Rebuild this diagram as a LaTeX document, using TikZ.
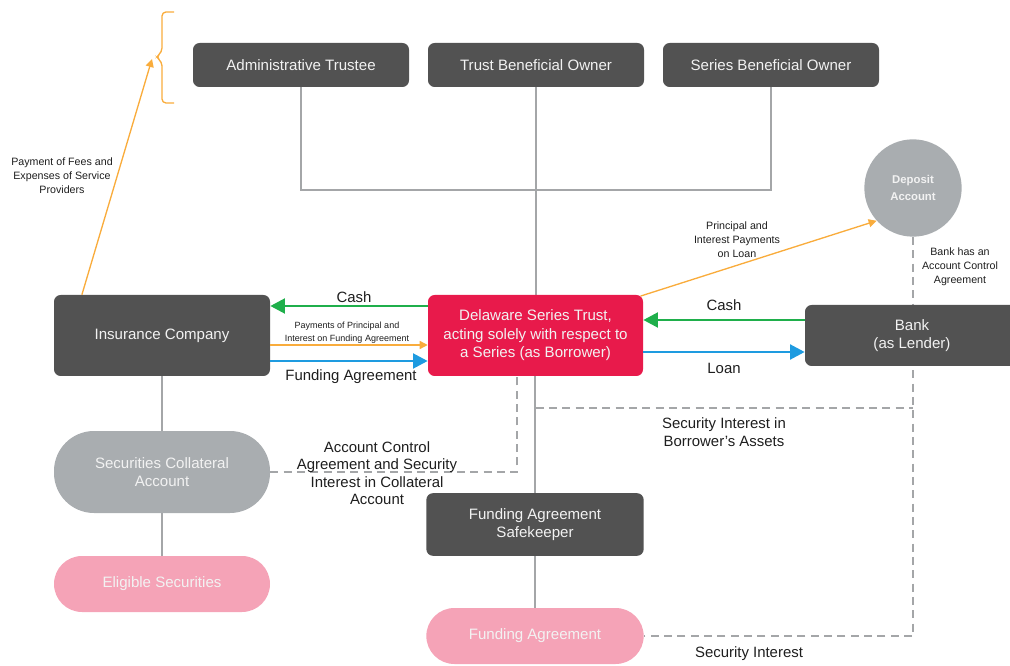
\documentclass[tikz,border=0pt]{standalone}
\usepackage{fontspec}
\setmainfont{Liberation Sans}
\usetikzlibrary{arrows.meta,calc,backgrounds}

\definecolor{darkbox}{HTML}{525252}
\definecolor{trustred}{HTML}{E81A4B}
\definecolor{acctgray}{HTML}{A9ADB0}
\definecolor{softpink}{HTML}{F5A3B7}
\definecolor{cashgreen}{HTML}{1FAF4B}
\definecolor{loanblue}{HTML}{1E9BE0}
\definecolor{payorange}{HTML}{F9AC3C}
\definecolor{linkgray}{HTML}{A4A6A8}
\definecolor{labeltext}{HTML}{1E1E1E}
\definecolor{boxtext}{HTML}{F2F2F2}

\begin{document}
\begin{tikzpicture}[x=0.75pt,y=-0.75pt,
  entity/.style={fill=darkbox, rounded corners=5pt, text=boxtext, align=center,
    inner sep=0pt, font=\fontsize{11.3}{13.8}\selectfont},
  redbox/.style={entity, fill=trustred},
  pill/.style={fill=acctgray, rounded corners=30pt, text=boxtext, align=center,
    inner sep=0pt, font=\fontsize{11.3}{13}\selectfont},
  pinkpill/.style={pill, fill=softpink, rounded corners=21pt},
  lbl/.style={text=labeltext, align=center, inner sep=0pt,
    font=\fontsize{11.2}{13.1}\selectfont},
  smalllbl/.style={lbl, font=\fontsize{8}{10.5}\selectfont},
  tinylbl/.style={lbl, font=\fontsize{6.75}{9.8}\selectfont},
  link/.style={draw=linkgray, line width=1.5pt},
  secured/.style={draw=linkgray, line width=1.5pt, dash pattern=on 6pt off 4pt},
  cashflow/.style={draw=cashgreen, line width=2.2pt, -{Triangle[length=11pt,width=11pt]}},
  loanflow/.style={draw=loanblue, line width=2.2pt, -{Triangle[length=11pt,width=11pt]}},
  payflow/.style={draw=payorange, line width=1pt, -{Triangle[length=6pt,width=6pt]}}
]
\clip (0,0) rectangle (1010,666);

% top row of service providers and owners
\node[entity, minimum width=162pt, minimum height=33pt] (admin) at (301,65) {Administrative Trustee};
\node[entity, minimum width=162pt, minimum height=33pt] (tbo) at (536,65) {Trust Beneficial Owner};
\node[entity, minimum width=162pt, minimum height=33pt] (sbo) at (771,65) {Series Beneficial Owner};

% deposit account
\node[circle, fill=acctgray, minimum size=73pt, inner sep=0pt, text=boxtext, align=center,
  font=\bfseries\fontsize{8.5}{12.8}\selectfont] (dep) at (913,188) {Deposit\\Account};

% middle row
\node[entity, minimum width=162pt, minimum height=60.75pt] (ins) at (162,335.5) {Insurance Company};
\node[redbox, minimum width=161.25pt, minimum height=60.75pt] (del) at (535.5,335.5)
  {Delaware Series Trust,\\acting solely with respect to\\a Series (as Borrower)};
\node[entity, minimum width=160.5pt, minimum height=45.75pt] (bank) at (912,335.5)
  {Bank\\(as Lender)};

% accounts and agreements
\node[pill, minimum width=162pt, minimum height=61.5pt] (sca) at (162,472)
  {Securities Collateral\\Account};
\node[pinkpill, minimum width=162pt, minimum height=42pt] (es) at (162,584) {Eligible Securities};
\node[entity, minimum width=163pt, minimum height=47pt] (fas) at (535,524.5)
  {Funding Agreement\\Safekeeper};
\node[pinkpill, minimum width=163pt, minimum height=42pt] (fa) at (535,636) {Funding Agreement};

% helper rows and columns
\coordinate (ownersrow) at (0,190);
\coordinate (cashrow) at (0,306);
\coordinate (payrow) at (0,345);
\coordinate (fundrow) at (0,361);
\coordinate (bankcashrow) at (0,320);
\coordinate (loanrow) at (0,352);
\coordinate (assetsrow) at (0,408);
\coordinate (collcol) at (517,0);
\coordinate (feetip) at (152,59);

\begin{scope}[on background layer]
  % ownership links
  \draw[link] (admin.south) -- (admin.south |- ownersrow) -- (sbo.south |- ownersrow) -- (sbo.south);
  \draw[link] (tbo.south) -- (del.north -| tbo.south);
  \draw[link] (ins.south) -- (sca.north);
  \draw[link] (sca.south) -- (es.north);
  \draw[link] (del.south -| fas.north) -- (fas.north);
  \draw[link] (fas.south) -- (fa.north);
  % security interests
  \draw[secured] (dep.south) -- (dep.south |- fa.east) -- (fa.east);
  \draw[secured] (del.south |- assetsrow) -- (dep.south |- assetsrow);
  \draw[secured] (sca.east) -- (sca.east -| collcol) -- (del.south -| collcol);
\end{scope}

% bracket around the service providers
\draw[payorange, line width=1pt, rounded corners=3pt]
  (174,12) -- (162,12) -- (162,52) -- (156,57) -- (162,62) -- (162,103) -- (174,103);

% flows between insurance company and trust
\draw[cashflow] (del.west |- cashrow) -- (ins.east |- cashrow);
\draw[payflow] (ins.east |- payrow) -- (del.west |- payrow);
\draw[loanflow] (ins.east |- fundrow) -- (del.west |- fundrow);

% flows between trust and bank
\draw[cashflow] (bank.west |- bankcashrow) -- (del.east |- bankcashrow);
\draw[loanflow] (del.east |- loanrow) -- (bank.west |- loanrow);

% payments
\draw[payflow] ($(del.north east)+(-2pt,-1pt)$) -- (dep.222);
\draw[payflow] ($(ins.north west)!0.13!(ins.north east)$) -- (feetip);

% labels
\node[lbl] (lcash1) at (354,297) {Cash};
\node[tinylbl] (lpay) at (347,333) {Payments of Principal and\\Interest on Funding Agreement};
\node[lbl] (lfund) at (351,377) {Funding Agreement};
\node[lbl] (lcash2) at (724,305) {Cash};
\node[lbl] (lloan) at (724,368) {Loan};
\node[smalllbl] (lpil) at (737,240) {Principal and\\Interest Payments\\on Loan};
\node[smalllbl] (lfees) at (62,176) {Payment of Fees and\\Expenses of Service\\Providers};
\node[smalllbl] (lacb) at (960,267) {Bank has an\\Account Control\\Agreement};
\node[lbl] (lacs) at (377,473) {Account Control\\Agreement and Security\\Interest in Collateral\\Account};
\node[lbl] (lsib) at (724,432) {Security Interest in\\Borrower's Assets};
\node[lbl] (lsi) at (749,654) {Security Interest};
\end{tikzpicture}
\end{document}
